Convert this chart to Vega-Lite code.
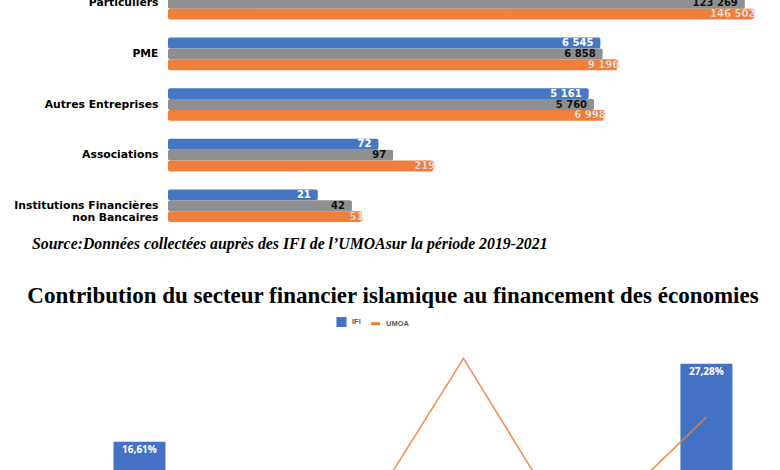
{
  "$schema": "https://vega.github.io/schema/vega-lite/v6.json",
  "background": "white",
  "padding": {"left": 12, "top": -22, "right": 0, "bottom": 0},
  "spacing": 33,
  "resolve": {"scale": {"color": "independent"}, "legend": {"color": "independent"}},
  "config": {
    "view": {"stroke": null},
    "font": "Liberation Sans",
    "locale": {"number": {"decimal": ",", "thousands": " ", "grouping": [3], "currency": ["", ""]}}
  },
  "vconcat": [
    {
      "width": 756,
      "height": 253,
      "data": {"values": [
        {"secteur": "Particuliers", "annee": "2019", "valeur": 98000},
        {"secteur": "Particuliers", "annee": "2020", "valeur": 123269},
        {"secteur": "Particuliers", "annee": "2021", "valeur": 146502},
        {"secteur": "PME", "annee": "2019", "valeur": 6545},
        {"secteur": "PME", "annee": "2020", "valeur": 6858},
        {"secteur": "PME", "annee": "2021", "valeur": 9196},
        {"secteur": "Autres Entreprises", "annee": "2019", "valeur": 5161},
        {"secteur": "Autres Entreprises", "annee": "2020", "valeur": 5760},
        {"secteur": "Autres Entreprises", "annee": "2021", "valeur": 6998},
        {"secteur": "Associations", "annee": "2019", "valeur": 72},
        {"secteur": "Associations", "annee": "2020", "valeur": 97},
        {"secteur": "Associations", "annee": "2021", "valeur": 219},
        {"secteur": "Institutions Financières non Bancaires", "annee": "2019", "valeur": 21},
        {"secteur": "Institutions Financières non Bancaires", "annee": "2020", "valeur": 42},
        {"secteur": "Institutions Financières non Bancaires", "annee": "2021", "valeur": 51}
      ]},
      "title": {
        "text": "Source:Données collectées auprès des IFI de l’UMOAsur la période 2019-2021",
        "orient": "bottom", "anchor": "start", "frame": "group", "dx": 20, "offset": 6,
        "font": "Liberation Serif", "fontSize": 15.8, "fontStyle": "italic", "fontWeight": "bold", "color": "#000000"
      },
      "encoding": {
        "y": {
          "field": "secteur", "type": "nominal",
          "sort": ["Particuliers", "PME", "Autres Entreprises", "Associations", "Institutions Financières non Bancaires"],
          "scale": {"paddingInner": 0.356, "paddingOuter": 0.178},
          "axis": {
            "title": null, "domain": false, "ticks": false, "labelPadding": 10, "offset": -156,
            "labelFont": "DejaVu Sans", "labelFontWeight": "bold", "labelFontSize": 10.8, "labelColor": "#000000",
            "labelLimit": 300, "labelLineHeight": 12,
            "labelExpr": "datum.label === 'Institutions Financières non Bancaires' ? ['Institutions Financières', 'non Bancaires'] : datum.label"
          }
        },
        "yOffset": {"field": "annee", "type": "nominal", "sort": ["2019", "2020", "2021"], "scale": {"paddingInner": 0}},
        "x": {"field": "valeur", "type": "quantitative", "scale": {"type": "log", "domain": [0.042, 197400], "nice": false}, "axis": null}
      },
      "layer": [
        {
          "mark": {"type": "bar", "cornerRadiusEnd": 2},
          "encoding": {
            "x2": {"datum": 1},
            "color": {"field": "annee", "type": "nominal", "scale": {"domain": ["2019", "2020", "2021"], "range": ["#4677C4", "#8E8F90", "#EF7F3A"]}, "legend": null}
          }
        },
        {
          "transform": [{"filter": "datum.annee !== '2021'"}],
          "mark": {"type": "text", "align": "right", "baseline": "middle", "dx": -7, "font": "DejaVu Sans", "fontWeight": "bold", "fontSize": 10},
          "encoding": {
            "text": {"field": "valeur", "type": "quantitative", "format": ",d"},
            "color": {"condition": {"test": "datum.annee === '2020'", "value": "#111111"}, "value": "#ffffff"}
          }
        },
        {
          "transform": [{"filter": "datum.annee === '2021'"}],
          "mark": {"type": "text", "align": "right", "baseline": "middle", "dx": 2, "font": "DejaVu Sans", "fontWeight": "bold", "fontSize": 10, "fill": "#ffffff", "stroke": "#E0662A", "strokeWidth": 0.4},
          "encoding": {
            "text": {"field": "valeur", "type": "quantitative", "format": ",d"}
          }
        }
      ]
    },
    {
      "width": 762,
      "height": 219,
      "data": {"values": [
        {"annee": "2013", "IFI": 0.09, "UMOA": 0.085},
        {"annee": "2014", "IFI": 0.1661, "UMOA": 0.09},
        {"annee": "2015", "IFI": 0.11, "UMOA": 0.095},
        {"annee": "2016", "IFI": 0.12, "UMOA": 0.092},
        {"annee": "2017", "IFI": 0.10, "UMOA": 0.103},
        {"annee": "2018", "IFI": 0.09, "UMOA": 0.2802},
        {"annee": "2019", "IFI": 0.11, "UMOA": 0.100},
        {"annee": "2020", "IFI": 0.12, "UMOA": 0.093},
        {"annee": "2021", "IFI": 0.2728, "UMOA": 0.1999}
      ]},
      "transform": [{"fold": ["IFI", "UMOA"], "as": ["serie", "taux"]}],
      "title": {
        "text": "Contribution du secteur financier islamique au financement des économies",
        "anchor": "middle", "offset": 8,
        "font": "Liberation Serif", "fontSize": 23, "fontWeight": "bold", "color": "#000000"
      },
      "encoding": {
        "x": {"field": "annee", "type": "ordinal", "scale": {"paddingInner": 0.358, "paddingOuter": 0.383, "align": 0.33}, "axis": null},
        "y": {"field": "taux", "type": "quantitative", "scale": {"domain": [0, 0.3], "nice": false}, "axis": null}
      },
      "layer": [
        {
          "transform": [{"filter": "datum.serie === 'IFI'"}],
          "mark": {"type": "bar"},
          "encoding": {
            "color": {
              "field": "serie", "type": "nominal",
              "scale": {"domain": ["IFI", "UMOA"], "range": ["#4472C4", "#ED7D31"]},
              "legend": {
                "orient": "none", "legendX": 324, "legendY": -28, "direction": "horizontal", "title": null,
                "labelFont": "Liberation Sans", "labelFontSize": 7.5, "labelFontWeight": "bold", "labelColor": "#595959",
                "symbolSize": 55, "columnPadding": 3, "labelOffset": 5,
                "encode": {"symbols": {"update": {
                  "shape": {"signal": "datum.value === 'UMOA' ? 'stroke' : 'square'"},
                  "size": {"signal": "datum.value === 'UMOA' ? 85 : 50"},
                  "stroke": {"signal": "datum.value === 'UMOA' ? '#ED7D31' : 'transparent'"},
                  "strokeWidth": {"value": 3}
                }}}
              }
            }
          }
        },
        {
          "transform": [{"filter": "datum.serie === 'IFI'"}],
          "mark": {"type": "text", "baseline": "top", "dy": 3, "color": "#ffffff", "font": "Open Sans", "fontWeight": "bold", "fontSize": 10},
          "encoding": {
            "text": {"field": "taux", "type": "quantitative", "format": ".2%"}
          }
        },
        {
          "transform": [{"filter": "datum.serie === 'UMOA'"}],
          "mark": {"type": "line", "strokeWidth": 1.6, "strokeOpacity": 0.85},
          "encoding": {
            "color": {"field": "serie", "type": "nominal"}
          }
        }
      ]
    }
  ]
}
